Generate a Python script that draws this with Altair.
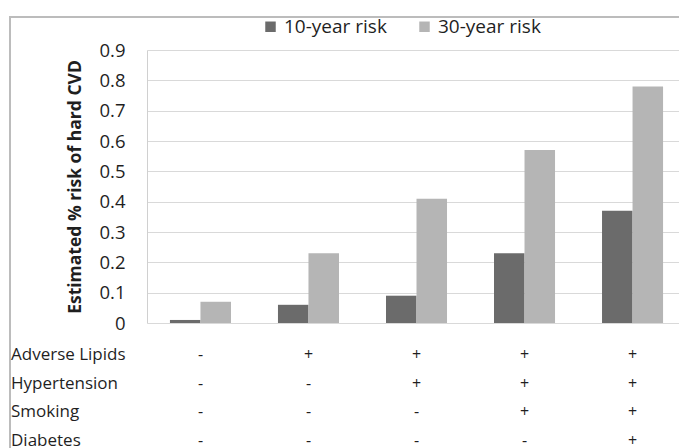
import altair as alt
import pandas as pd

# Risk-factor profiles, from no adverse factor to all four
profiles = ["None", "Lipids", "Lipids+HTN", "Lipids+HTN+Smoking", "All four"]
series = ["10-year risk", "30-year risk"]
risk_10yr = [0.01, 0.06, 0.09, 0.23, 0.37]
risk_30yr = [0.07, 0.23, 0.41, 0.57, 0.78]

# Presence (+) / absence (-) of each factor in each profile
factors = ["Adverse Lipids", "Hypertension", "Smoking", "Diabetes"]
lipids_signs = ["-", "+", "+", "+", "+"]
hypertension_signs = ["-", "-", "+", "+", "+"]
smoking_signs = ["-", "-", "-", "+", "+"]
diabetes_signs = ["-", "-", "-", "-", "+"]

FONT = "Open Sans"
TEXT = "#1f1f1f"

bars_df = pd.DataFrame(
    [{"profile": p, "series": series[0], "risk": v} for p, v in zip(profiles, risk_10yr)]
    + [{"profile": p, "series": series[1], "risk": v} for p, v in zip(profiles, risk_30yr)]
)

sign_rows = [lipids_signs, hypertension_signs, smoking_signs, diabetes_signs]
table_df = pd.DataFrame(
    [{"profile": p, "factor": f, "sign": s}
     for f, row in zip(factors, sign_rows) for p, s in zip(profiles, row)]
)
factor_df = pd.DataFrame({"factor": factors})

x_scale = alt.Scale(domain=profiles, paddingInner=0.435, paddingOuter=0.18, align=0.59)
table_y = alt.Scale(type="point", domain=factors, range=[305, 390.5], padding=0)

bars = alt.Chart(bars_df).mark_bar().encode(
    x=alt.X("profile:N", scale=x_scale,
            axis=alt.Axis(labels=False, ticks=False, title=None,
                          domainColor="#c4c4c4", domainWidth=1.2)),
    xOffset=alt.XOffset("series:N", sort=series, scale=alt.Scale(paddingInner=0)),
    y=alt.Y("risk:Q",
            scale=alt.Scale(domain=[0, 0.9], nice=False),
            axis=alt.Axis(
                values=[0, 0.1, 0.2, 0.3, 0.4, 0.5, 0.6, 0.7, 0.8, 0.9],
                labelExpr="datum.value == 0 ? '0' : format(datum.value, '.1f')",
                ticks=False, labelPadding=22, labelFontSize=18.5, labelColor=TEXT,
                labelFont=FONT,
                grid=True, gridColor="#d9d9d9", gridWidth=1.2,
                domainColor="#d0d0d0",
                title="Estimated % risk of hard CVD",
                titleFont=FONT, titleFontSize=17.5, titleFontWeight="bold",
                titleColor=TEXT, titleX=-72, titleY=136.5,
                titleAlign="center", titleBaseline="middle", titleAngle=-90,
            )),
    color=alt.Color("series:N",
                    scale=alt.Scale(domain=series, range=["#6b6b6b", "#b5b5b5"]),
                    legend=alt.Legend(
                        orient="none", legendX=114, legendY=-33,
                        direction="horizontal", title=None,
                        symbolType="square", symbolSize=110, symbolStrokeWidth=0,
                        labelFont=FONT, labelFontSize=19, labelColor=TEXT,
                        labelOffset=4, columnPadding=28,
                    )),
)

signs = alt.Chart(table_df).mark_text(font=FONT, fontSize=16, color=TEXT, baseline="middle").encode(
    x=alt.X("profile:N", scale=x_scale, axis=None),
    y=alt.Y("factor:N", scale=table_y, axis=None),
    text="sign:N",
)

row_labels = alt.Chart(factor_df).mark_text(
    font=FONT, fontSize=17, color=TEXT, align="left", baseline="middle"
).encode(
    x=alt.value(-136),
    y=alt.Y("factor:N", scale=table_y, axis=None),
    text="factor:N",
)

frame = alt.Chart(pd.DataFrame({"k": [0]})).mark_rect(
    fillOpacity=0, stroke="#bcbcbc", strokeWidth=2
).encode(
    x=alt.value(-137), x2=alt.value(560),
    y=alt.value(-33), y2=alt.value(430),
)

chart = alt.layer(frame, bars, signs, row_labels).resolve_scale(
    y="independent"
).properties(
    width=532, height=273,
    autosize=alt.AutoSizeParams(type="none"),
    padding={"left": 147, "top": 50, "right": 0, "bottom": 125},
    background="white",
).configure_view(stroke=None)

chart.save("out.html", embed_options={"renderer": "svg", "actions": False})
